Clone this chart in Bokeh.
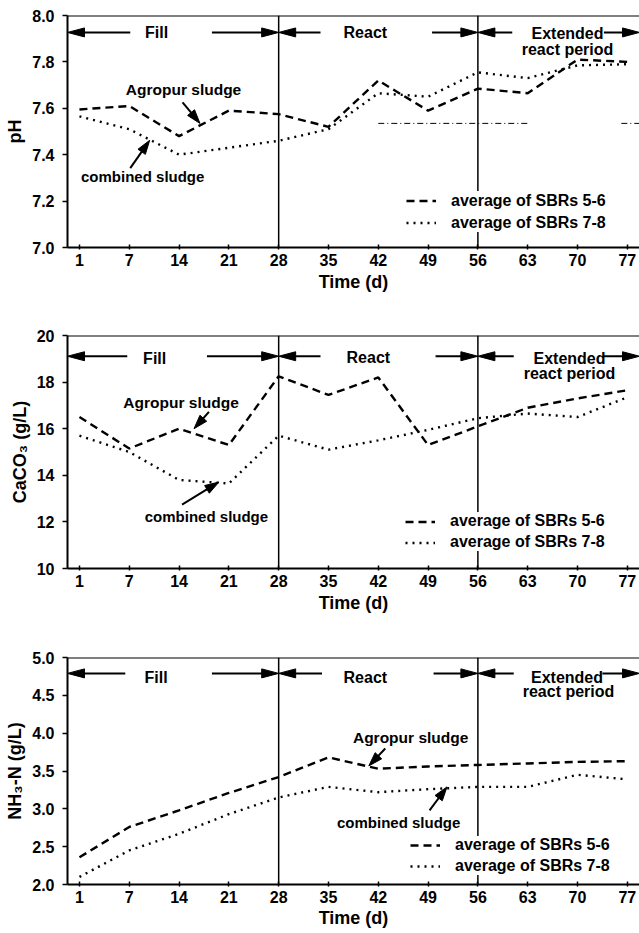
import math
from bokeh.plotting import figure
from bokeh.models import (Range1d, FixedTicker, NumeralTickFormatter, Span, Label,
                          Legend, LegendItem, Arrow, PolyAnnotation)
from bokeh.layouts import column
from bokeh.embed import file_html
from bokeh.resources import INLINE

FONT = "Liberation Sans"

# ---------------- data ----------------
days = ["1", "7", "14", "21", "28", "35", "42", "49", "56", "63", "70", "77"]
phase_bounds = ["28", "56"]
series_names = ["average of SBRs 5-6", "average of SBRs 7-8"]

ph_sbr56 = [7.595, 7.61, 7.48, 7.59, 7.575, 7.52, 7.72, 7.59, 7.685, 7.665, 7.81, 7.80]
ph_sbr78 = [7.565, 7.51, 7.40, 7.43, 7.46, 7.51, 7.665, 7.65, 7.755, 7.73, 7.785, 7.79]
ph_ticks = [7.0, 7.2, 7.4, 7.6, 7.8, 8.0]
ph_trace_level = 7.535
ph_trace_x = [[6.0, 9.03], [10.88, 11.3]]

caco3_sbr56 = [16.5, 15.15, 16.0, 15.3, 18.25, 17.45, 18.2, 15.3, 16.1, 16.9, 17.3, 17.65]
caco3_sbr78 = [15.7, 15.0, 13.8, 13.65, 15.7, 15.1, 15.5, 15.95, 16.45, 16.65, 16.5, 17.35]
caco3_ticks = [10, 12, 14, 16, 18, 20]

nh3_sbr56 = [2.36, 2.76, 2.98, 3.21, 3.42, 3.68, 3.53, 3.56, 3.58, 3.60, 3.62, 3.63]
nh3_sbr78 = [2.10, 2.45, 2.67, 2.93, 3.15, 3.29, 3.22, 3.26, 3.29, 3.29, 3.45, 3.39]
nh3_ticks = [2.0, 2.5, 3.0, 3.5, 4.0, 4.5, 5.0]

xs = list(range(len(days)))

# ---------------- layout constants ----------------
W = 639
LEFT = 67
X0, X1 = -0.24, 11.245
FW = W - LEFT
SX = FW / (X1 - X0)


def add_arrow(p, sy, x0, y0, x1, y1, L=17, Wd=9, lw=2):
    dxp, dyp = (x1 - x0) * SX, (y1 - y0) * sy
    d = math.hypot(dxp, dyp)
    ux, uy = dxp / d, dyp / d
    bx, by = -ux * L, -uy * L
    px, py = -uy * Wd / 2, ux * Wd / 2
    hx = [x1, x1 + (bx + px) / SX, x1 + (bx - px) / SX]
    hy = [y1, y1 + (by + py) / sy, y1 + (by - py) / sy]
    p.add_layout(Arrow(x_start=x0, y_start=y0, x_end=x1 + bx * 0.5 / SX,
                       y_end=y1 + by * 0.5 / sy, end=None,
                       line_width=lw, line_color="black"))
    p.add_layout(PolyAnnotation(xs=hx, ys=hy, fill_color="black", fill_alpha=1.0,
                                line_color="black", line_width=1, line_alpha=1.0))


def add_text(p, x, y, text, size="15px"):
    p.add_layout(Label(x=x, y=y, text=text, text_font=FONT, text_font_style="bold",
                       text_font_size=size, text_color="black",
                       text_align="center", text_baseline="middle"))


def make_panel(height, top, frame_h, bottom, yr, yticks, yfmt, ylabel,
               a_vals, c_vals, arrow_y, phase_arrows, phase_texts,
               ann_a, ann_c, leg, xlab_standoff=3):
    p = figure(width=W, height=height, x_range=Range1d(X0, X1),
               y_range=Range1d(yr[0], yr[1]), output_backend="svg",
               toolbar_location=None, title=None,
               min_border_left=LEFT, min_border_right=0,
               min_border_top=top, min_border_bottom=bottom)
    sy = frame_h / (yr[1] - yr[0])
    p.outline_line_color = None
    p.grid.visible = False
    p.background_fill_color = "white"
    p.border_fill_color = "white"

    for ax in (p.xaxis[0], p.yaxis[0]):
        ax.axis_line_width = 2
        ax.axis_line_color = "black"
        ax.major_tick_line_width = 1.5
        ax.major_tick_line_color = "black"
        ax.minor_tick_line_color = None
        ax.major_label_text_font = FONT
        ax.major_label_text_font_style = "bold"
        ax.major_label_text_font_size = "16px"
        ax.major_label_text_color = "black"
        ax.axis_label_text_font = FONT
        ax.axis_label_text_font_style = "bold"
        ax.axis_label_text_font_size = "18px"
        ax.axis_label_text_color = "black"

    xa = p.xaxis[0]
    xa.ticker = FixedTicker(ticks=xs)
    xa.major_label_overrides = {i: d for i, d in zip(xs, days)}
    xa.major_tick_in = 3
    xa.major_tick_out = 2
    xa.major_label_standoff = 4
    xa.axis_label = "Time (d)"
    xa.axis_label_standoff = xlab_standoff

    ya = p.yaxis[0]
    ya.ticker = FixedTicker(ticks=yticks)
    ya.formatter = NumeralTickFormatter(format=yfmt)
    ya.major_tick_in = 0
    ya.major_tick_out = 5
    ya.major_label_standoff = 8
    ya.axis_label = ylabel
    ya.axis_label_standoff = 4

    # phase boundaries and top frame line
    for d in phase_bounds:
        p.add_layout(Span(location=days.index(d), dimension="height",
                          line_color="black", line_width=1.5))
    p.add_layout(Span(location=yr[1], dimension="width", line_color="black", line_width=2))

    r_a = p.line(xs, a_vals, line_color="black", line_width=2.4, line_dash="8 5")
    r_c = p.line(xs, c_vals, line_color="black", line_width=2.4, line_dash="2 5")

    # phase arrows
    for (xf, xt) in phase_arrows:
        add_arrow(p, sy, xf, arrow_y, xt, arrow_y, L=17, Wd=9, lw=2)
    for (tx, ty, txt, sz) in phase_texts:
        add_text(p, tx, ty, txt, sz)

    # annotations
    (tx, ty, x0, y0, x1, y1) = ann_a
    add_text(p, tx, ty, "Agropur sludge", "15.5px")
    add_arrow(p, sy, x0, y0, x1, y1, L=14, Wd=9, lw=2)
    (tx, ty, x0, y0, x1, y1) = ann_c
    add_text(p, tx, ty, "combined sludge", "15px")
    add_arrow(p, sy, x0, y0, x1, y1, L=14, Wd=9, lw=2)

    lx, ly, pad, lh = leg
    legend = Legend(items=[LegendItem(label=series_names[0], renderers=[r_a]),
                           LegendItem(label=series_names[1], renderers=[r_c])],
                    location=(lx, ly), orientation="vertical",
                    glyph_width=30, glyph_height=lh, label_height=lh,
                    label_standoff=15, spacing=3, padding=pad, margin=0,
                    border_line_color=None, background_fill_color="white",
                    background_fill_alpha=1.0,
                    label_text_font=FONT, label_text_font_style="bold",
                    label_text_font_size="16px", label_text_color="black")
    p.add_layout(legend)
    return p, r_a, r_c


# ---------------- panel 1: pH ----------------
p1, _, _ = make_panel(
    308, 15, 232, 61, (7.0, 8.0), ph_ticks, "0.0", "pH",
    ph_sbr56, ph_sbr78, 7.927,
    [(1.02, X0), (2.66, 4.0), (4.84, 4.0), (7.08, 8.0), (8.69, 8.0), (10.53, X1)],
    [(1.55, 7.927, "Fill", "16px"), (5.74, 7.927, "React", "16px"),
     (9.8, 7.922, "Extended", "16px"), (9.8, 7.853, "react period", "16px")],
    (2.09, 7.682, 2.07, 7.626, 2.42, 7.535),
    (1.27, 7.304, 1.02, 7.342, 1.41, 7.462),
    (339, 15, 7, 19))
p1.multi_line(ph_trace_x, [[ph_trace_level] * 2 for _ in ph_trace_x],
              line_color="black", line_width=1, line_dash="6 3 1 3")

# ---------------- panel 2: CaCO3 ----------------
p2, _, _ = make_panel(
    320, 27, 233, 60, (10, 20), caco3_ticks, "0", "CaCO\u2083 (g/L)",
    caco3_sbr56, caco3_sbr78, 19.11,
    [(0.96, X0), (2.56, 4.0), (4.84, 4.0), (7.15, 8.0), (8.72, 8.0), (10.52, X1)],
    [(1.51, 19.0, "Fill", "16px"), (5.8, 19.04, "React", "16px"),
     (9.84, 19.0, "Extended", "16px"), (9.84, 18.36, "react period", "16px")],
    (2.04, 17.11, 2.60, 16.72, 2.30, 16.0),
    (2.55, 12.25, 2.06, 12.74, 2.80, 13.71),
    (338, 17, 8, 17))

# ---------------- panel 3: NH3-N ----------------
p3, _, _ = make_panel(
    304, 29, 227, 48, (2.0, 5.0), nh3_ticks, "0.0", "NH\u2083-N (g/L)",
    nh3_sbr56, nh3_sbr78, 4.79,
    [(0.92, X0), (2.66, 4.0), (4.87, 4.0), (7.11, 8.0), (8.72, 8.0), (10.5, X1)],
    [(1.54, 4.735, "Fill", "16px"), (5.74, 4.74, "React", "16px"),
     (9.79, 4.735, "Extended", "16px"), (9.82, 4.545, "react period", "16px")],
    (6.65, 3.943, 6.14, 3.797, 5.81, 3.567),
    (6.41, 2.814, 7.03, 2.98, 7.38, 3.29),
    (343, 9, 3, 18), xlab_standoff=2)

layout = column(p1, p2, p3)
open("out.html", "w").write(file_html(layout, INLINE))
